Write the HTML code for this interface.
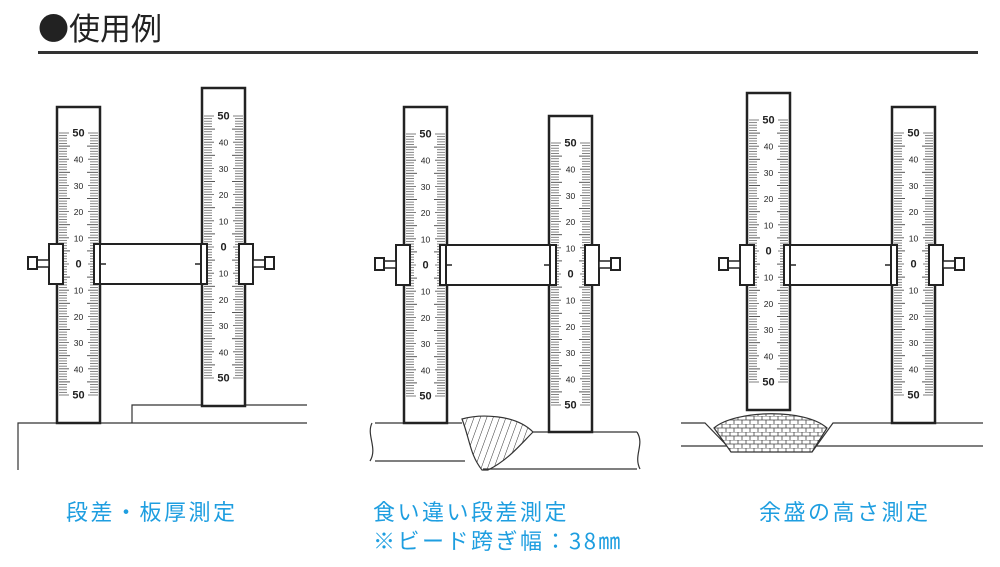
<!DOCTYPE html>
<html><head><meta charset="utf-8"><style>
body{margin:0;background:#fff;width:1000px;height:567px;overflow:hidden;position:relative;font-family:"Liberation Sans","Noto Sans CJK JP",sans-serif}
.t{position:absolute;left:38px;top:4px;font-size:31px;color:#222;font-family:"Noto Sans CJK JP",sans-serif}
.rule{position:absolute;left:38px;top:51px;width:940px;height:3px;background:#333}
.lb{position:absolute;color:#1e9ee0;font-size:22px;font-family:"Noto Sans CJK JP",sans-serif;line-height:29px;letter-spacing:2.5px}
svg{position:absolute;left:0;top:0}
</style></head><body>
<div class="t">●使用例</div><div class="rule"></div>
<div class="lb" style="left:66px;top:497px">段差・板厚測定</div>
<div class="lb" style="left:373px;top:497px">食い違い段差測定<br>※ビード跨ぎ幅：38㎜</div>
<div class="lb" style="left:759px;top:497px">余盛の高さ測定</div>
<svg id="s" width="1000" height="567" xmlns="http://www.w3.org/2000/svg">
<defs>
<pattern id="h" width="6" height="6" patternUnits="userSpaceOnUse" patternTransform="rotate(20)"><line x1="0" y1="0" x2="0" y2="6" stroke="#333" stroke-width="1"/></pattern>
<pattern id="b" width="8" height="8" patternUnits="userSpaceOnUse"><rect width="8" height="8" fill="#fff"/><path d="M0 0H8M0 4H8M2 0V4M6 4V8" stroke="#444" stroke-width="0.8"/></pattern>
</defs>
<g fill="none" stroke="#333" stroke-width="1.2">
<path d="M18 470V423H307M132 423V405H307"/>
<path d="M375 423H462M375 461H465M372 423C366 435 378 448 370 461"/>
<path d="M533 432H637M483 469H637M637 432C645 445 633 455 640 469"/>
<path d="M462 419C480 414 515 414 533 432C520 445 508 460 488 470H482C470 455 470 440 462 419Z" fill="url(#h)"/>
<path d="M681 423H705L733 452M681 446H983M983 423H833L812 452"/>
<path d="M714 428C735 410 805 408 827 428L812 452H731Z" fill="url(#b)"/>
</g>
<g id="r"></g>
</svg>
<script>
var g=document.getElementById('r'),o='';
function R(x,y0,y1,z){
 o+='<rect x="'+x+'" y="'+y0+'" width="43" height="'+(y1-y0)+'" fill="#fff" stroke="#222" stroke-width="2.5"/>';
 var s=131/50;
 for(var i=-50;i<=50;i++){var y=z-i*s,a=Math.abs(i);
  if(a%10==0){o+='<line x1="'+(x+2)+'" x2="'+(x+41)+'" y1="'+y+'" y2="'+y+'" stroke="#555" stroke-width="0.8"/>';
   var bd=(a==0||a==50);
   o+='<rect x="'+(x+12)+'" y="'+(y-5)+'" width="19" height="10" fill="#fff"/><text x="'+(x+21.5)+'" y="'+(y+3.5)+'" font-size="'+(bd?11:8.5)+'" font-weight="'+(bd?'bold':'normal')+'" text-anchor="middle" fill="#222" font-family="Liberation Sans">'+a+'</text>';}
  else{var l=a%5==0?11:8,c=a%5==0?'#444':'#777';
   o+='<line x1="'+(x+2)+'" x2="'+(x+2+l)+'" y1="'+y+'" y2="'+y+'" stroke="'+c+'" stroke-width="0.9"/><line x1="'+(x+41-l)+'" x2="'+(x+41)+'" y1="'+y+'" y2="'+y+'" stroke="'+c+'" stroke-width="0.9"/>';}
 }}
function C(x,y,dir){
 o+='<rect x="'+x+'" y="'+y+'" width="14" height="40" fill="#fff" stroke="#222" stroke-width="2"/>';
 var kx=dir<0?x-21:x+26, sx=dir<0?x-12:x+14;
 o+='<rect x="'+sx+'" y="'+(y+16)+'" width="12" height="7" fill="#fff" stroke="#222" stroke-width="1.5"/><rect x="'+kx+'" y="'+(y+13)+'" width="9" height="12" fill="#fff" stroke="#222" stroke-width="2"/>';}
function B(x0,x1,y){
 o+='<rect x="'+x0+'" y="'+y+'" width="'+(x1-x0)+'" height="40" fill="#fff" stroke="#222" stroke-width="2"/><line x1="'+(x0+6)+'" x2="'+(x0+6)+'" y1="'+y+'" y2="'+(y+40)+'" stroke="#222" stroke-width="2"/><line x1="'+(x1-6)+'" x2="'+(x1-6)+'" y1="'+y+'" y2="'+(y+40)+'" stroke="#222" stroke-width="2"/>';
 o+='<line x1="'+(x0+6)+'" x2="'+(x0+12)+'" y1="'+(y+20)+'" y2="'+(y+20)+'" stroke="#222" stroke-width="1.5"/><line x1="'+(x1-12)+'" x2="'+(x1-6)+'" y1="'+(y+20)+'" y2="'+(y+20)+'" stroke="#222" stroke-width="1.5"/>';}
R(57,107,423,264);R(202,88,406,247);
R(404,107,423,265);R(549,116,432,274);
R(747,93,410,251);R(892,107,423,264);
C(49,244,-1);C(239,244,1);B(94,207,244);
C(396,245,-1);C(585,245,1);B(440,556,245);
C(740,245,-1);C(929,245,1);B(784,897,245);
g.innerHTML=o;
</script>
</body></html>
